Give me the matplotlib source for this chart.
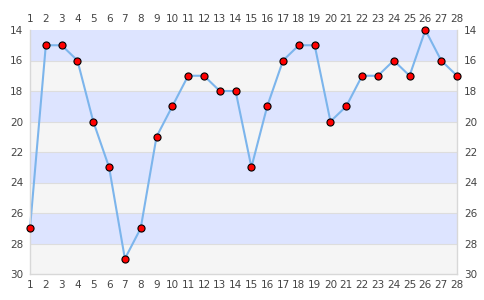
import matplotlib.pyplot as plt
import numpy as np

matches = list(range(1, 29))
positions = [27, 15, 15, 16, 20, 23, 29, 27, 21, 19, 17, 17, 18, 18, 23, 19,
             16, 15, 15, 20, 19, 17, 17, 16, 17, 14, 16, 17]

Y_MIN, Y_MAX = 14, 30
BAND_COLORS = ["#dde4ff", "#f5f5f5"]

fig = plt.figure(figsize=(4.85, 3.0), dpi=100)
ax = fig.add_axes([30 / 485, 1 - 274 / 300, 427 / 485, 244 / 300])

# alternating bands
for i, lo in enumerate(range(Y_MIN, Y_MAX, 2)):
    ax.axhspan(lo, lo + 2, color=BAND_COLORS[i % 2], lw=0, zorder=0)
for y in range(Y_MIN + 2, Y_MAX, 2):
    ax.axhline(y, color="#dddddd", lw=0.8, zorder=1)

ax.plot(matches, positions, color="#7cb5ec", lw=1.5, zorder=2, clip_on=False)
ax.scatter(matches, positions, s=26, c="#ff0000", edgecolors="black",
           linewidths=0.8, zorder=3, clip_on=False)

ax.set_xlim(1, 28)
ax.set_ylim(Y_MAX, Y_MIN)
ax.set_xticks(matches)
ax.set_yticks(range(Y_MIN, Y_MAX + 1, 2))

ax.tick_params(axis="both", length=0, labelsize=7.5, labelcolor="#444444",
               pad=4)
ax.tick_params(axis="x", top=True, labeltop=True)
ax.tick_params(axis="y", right=True, labelright=True, pad=5)

ax.spines["top"].set_visible(False)
for s in ["left", "bottom", "right"]:
    ax.spines[s].set_color("#d8d8d8")
    ax.spines[s].set_linewidth(1)

fig.savefig("out.png", dpi=100)
